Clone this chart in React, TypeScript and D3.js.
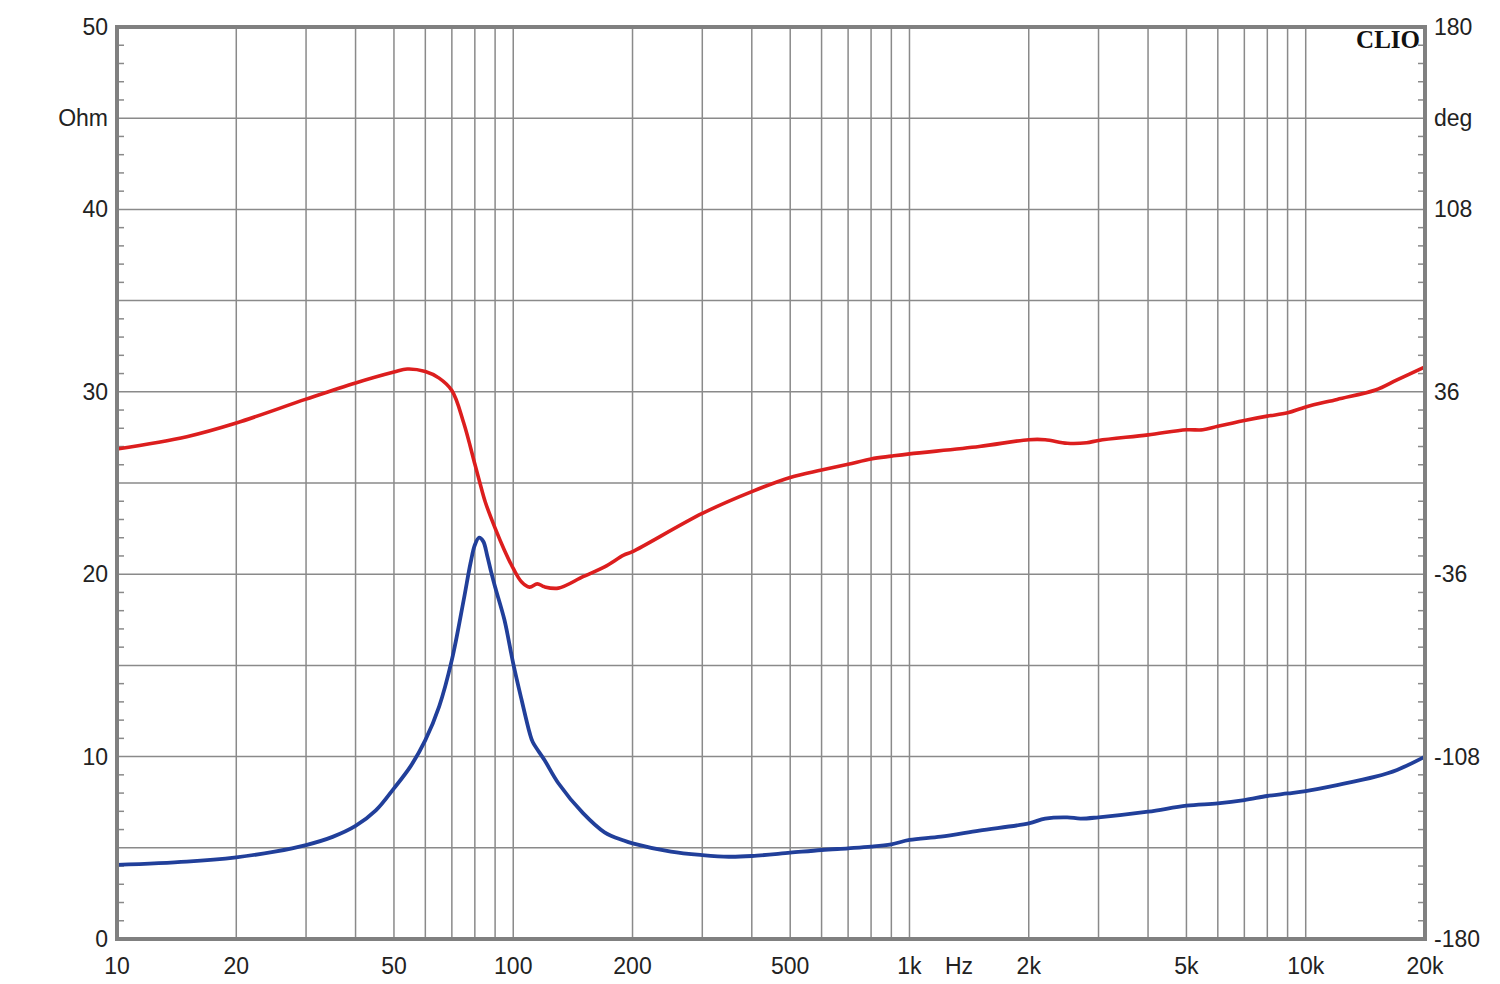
import React from "react";
import * as d3 from "d3";

// Impedance magnitude (Ohm), blue
const zFreq = [10, 15, 20, 25, 30, 35, 40, 45, 50, 55, 60, 65, 70, 75, 78, 80, 82, 84, 86, 88, 90, 95, 100, 105, 110, 112, 120, 130, 150, 170, 190, 200, 250, 300, 350, 400, 500, 600, 700, 800, 900, 1000, 1200, 1500, 2000, 2200, 2500, 2700, 3000, 4000, 5000, 6000, 7000, 8000, 9000, 10000, 12000, 15000, 17000, 20000];
const zOhm = [4.06, 4.24, 4.48, 4.79, 5.15, 5.6, 6.2, 7.05, 8.26, 9.45, 10.9, 12.74, 15.3, 18.6, 20.6, 21.6, 22.0, 21.8, 21.0, 20.1, 19.3, 17.5, 15.1, 13.1, 11.3, 10.8, 9.8, 8.54, 6.9, 5.85, 5.4, 5.24, 4.79, 4.6, 4.51, 4.55, 4.73, 4.88, 4.97, 5.06, 5.19, 5.43, 5.61, 5.94, 6.34, 6.6, 6.67, 6.6, 6.67, 6.98, 7.31, 7.44, 7.62, 7.84, 7.98, 8.11, 8.44, 8.9, 9.27, 10.0];

// Phase (deg), red
const pFreq = [10, 15, 20, 30, 40, 50, 54, 60, 65, 70, 75, 80, 82.4, 85, 90, 95, 100, 105, 110, 115, 120, 130, 150, 170, 190, 200, 300, 400, 500, 600, 700, 800, 900, 1000, 1500, 2000, 2200, 2500, 2800, 3000, 4000, 5000, 5500, 6000, 7000, 8000, 9000, 10000, 12000, 15000, 17000, 20000];
const pDeg = [13.4, 18.3, 23.7, 33.1, 39.5, 43.8, 45, 44, 41.4, 36.5, 23.7, 7.5, 0, -7.5, -17.8, -26.5, -33.7, -39.1, -41.1, -39.8, -41.0, -41.5, -37, -33.1, -28.5, -27.1, -12, -3.4, 2.2, 5.1, 7.4, 9.5, 10.6, 11.5, 14.4, 17.1, 17.1, 15.7, 15.9, 16.8, 19, 21, 21, 22.4, 24.7, 26.4, 27.7, 30, 33, 36.7, 40.7, 45.8];

const xTickVals = [10, 20, 50, 100, 200, 500, 1000, 2000, 5000, 10000, 20000];
const xTickLabels = ["10", "20", "50", "100", "200", "500", "1k", "2k", "5k", "10k", "20k"];
const ohmTicks = [0, 10, 20, 30, 40, 50];
const degTicks = [-180, -108, -36, 36, 108, 180];

const L = 117, R = 1425, T = 27, B = 939;

export default function App() {
  const x = d3.scaleLog().domain([10, 20000]).range([L, R]);
  const yOhm = d3.scaleLinear().domain([0, 50]).range([B, T]);
  const yDeg = d3.scaleLinear().domain([-180, 180]).range([B, T]);

  const gridX: number[] = [];
  for (let dec = 10; dec <= 10000; dec *= 10) {
    for (let m = 1; m <= 9; m++) {
      const f = dec * m;
      if (f > 10 && f < 20000) gridX.push(f);
    }
  }
  const gridY = d3.range(5, 50, 5);
  const minorY = d3.range(1, 50, 1).filter((v) => v % 5 !== 0);

  const zLine = d3.line<number>().x((_, i) => x(zFreq[i])).y((d) => yOhm(d)).curve(d3.curveCatmullRom.alpha(0.5));
  const pLine = d3.line<number>().x((_, i) => x(pFreq[i])).y((d) => yDeg(d)).curve(d3.curveCatmullRom.alpha(0.5));

  const font = "'Liberation Sans', Arial, sans-serif";
  const gridColor = "#8a8a8a";
  const fs = 23;

  return (
    <svg width={1500} height={984} style={{ position: "absolute", left: 0, top: 0, background: "#fff" }}>
      <rect x={0} y={0} width={1500} height={984} fill="#fff" />
      {gridX.map((f) => (
        <line key={"gx" + f} x1={x(f)} x2={x(f)} y1={T} y2={B} stroke={gridColor} strokeWidth={1.5} />
      ))}
      {gridY.map((v) => (
        <line key={"gy" + v} x1={L} x2={R} y1={yOhm(v)} y2={yOhm(v)} stroke={gridColor} strokeWidth={1.5} />
      ))}
      {minorY.map((v) => (
        <g key={"mt" + v}>
          <line x1={L} x2={L + 7} y1={yOhm(v)} y2={yOhm(v)} stroke={gridColor} strokeWidth={1.5} />
          <line x1={R - 7} x2={R} y1={yOhm(v)} y2={yOhm(v)} stroke={gridColor} strokeWidth={1.5} />
        </g>
      ))}
      <path d={pLine(pDeg) || ""} fill="none" stroke="#dc1e1e" strokeWidth={3.6} strokeLinejoin="round" />
      <path d={zLine(zOhm) || ""} fill="none" stroke="#213f9a" strokeWidth={3.8} strokeLinejoin="round" />
      <rect x={L} y={T} width={R - L} height={B - T} fill="none" stroke="#808080" strokeWidth={4} />
      {ohmTicks.map((v) => (
        <text key={"ol" + v} x={108} y={yOhm(v)} textAnchor="end" dominantBaseline="central" fontFamily={font} fontSize={fs} fill="#222">
          {v}
        </text>
      ))}
      <text x={108} y={yOhm(45)} textAnchor="end" dominantBaseline="central" fontFamily={font} fontSize={fs} fill="#222">Ohm</text>
      {degTicks.map((v) => (
        <text key={"dl" + v} x={1434} y={yDeg(v)} textAnchor="start" dominantBaseline="central" fontFamily={font} fontSize={fs} fill="#222">
          {v}
        </text>
      ))}
      <text x={1434} y={yDeg(144)} textAnchor="start" dominantBaseline="central" fontFamily={font} fontSize={fs} fill="#222">deg</text>
      {xTickVals.map((f, i) => (
        <text key={"xl" + f} x={x(f)} y={966} textAnchor="middle" dominantBaseline="central" fontFamily={font} fontSize={fs} fill="#222">
          {xTickLabels[i]}
        </text>
      ))}
      <text x={959} y={966} textAnchor="middle" dominantBaseline="central" fontFamily={font} fontSize={fs} fill="#222">Hz</text>
      <text x={1420} y={48} textAnchor="end" fontFamily="'Liberation Serif', 'DejaVu Serif', serif" fontWeight="bold" fontSize={25} fill="#111">CLIO</text>
    </svg>
  );
}
